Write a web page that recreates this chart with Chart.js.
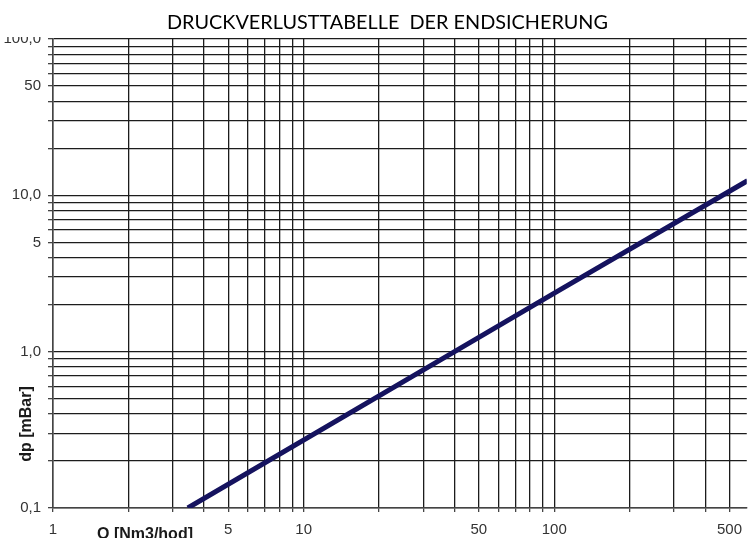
<!DOCTYPE html>
<html>
<head>
<meta charset="utf-8">
<script src="https://cdn.jsdelivr.net/npm/chart.js@4.4.1/dist/chart.umd.min.js"></script>
<style>
  html, body { margin: 0; padding: 0; background: #ffffff; }
  #wrap { width: 751px; height: 538px; position: relative; }
</style>
</head>
<body>
<div id="wrap"><canvas id="c" width="751" height="538"></canvas></div>
<script>
// ---- data ----
const chartTitle = 'DRUCKVERLUSTTABELLE  DER ENDSICHERUNG';
const xAxisTitle = 'Q [Nm3/hod]';
const yAxisTitle = 'dp [mBar]';

const flowQ = [3.45, 40, 100, 590];          // Q [Nm3/hod]
const pressureDp = [0.1, 1.0, 2.37, 12.4];   // dp [mBar]

const xGridValues = [1,2,3,4,5,6,7,8,9,10,20,30,40,50,60,70,80,90,100,200,300,400,500];
const xLabelValues = [1, 5, 10, 50, 100, 500];
const xLabelTexts = ['1', '5', '10', '50', '100', '500'];

const yGridValues = [0.1,0.2,0.3,0.4,0.5,0.6,0.7,0.8,0.9,1,2,3,4,5,6,7,8,9,10,20,30,40,50,60,70,80,90,100];
const yLabelValues = [0.1, 1, 5, 10, 50, 100];
const yLabelTexts = ['0,1', '1,0', '5', '10,0', '50', '100,0'];

const xMin = 1, xMax = 586, yMin = 0.1, yMax = 100;

function labelFor(values, texts, v) {
  for (let i = 0; i < values.length; i++) {
    if (Math.abs(values[i] - v) < 1e-9 * Math.max(1, v)) return texts[i];
  }
  return '';
}

const tickFont = { family: 'Liberation Sans, Arial, sans-serif', size: 15 };
const gridColor = '#1c1c1c';

const overlay = {
  id: 'overlay',
  afterDraw(chart) {
    const ctx = chart.ctx;
    ctx.save();
    // top crop of the scanned original
    ctx.fillStyle = '#ffffff';
    ctx.fillRect(0, 0, chart.width, 37);
    // title
    ctx.fillStyle = '#000000';
    ctx.font = '20px Lato, "Liberation Sans", sans-serif';
    ctx.textBaseline = 'alphabetic';
    ctx.textAlign = 'left';
    const w = ctx.measureText(chartTitle).width;
    const targetW = 441;
    ctx.translate(167, 29);
    ctx.scale(targetW / w, 1);
    ctx.fillText(chartTitle, 0, 0);
    ctx.restore();

    // axis titles
    ctx.save();
    ctx.fillStyle = '#1a1a1a';
    ctx.font = 'bold 16px "Liberation Sans", Arial, sans-serif';
    ctx.textBaseline = 'alphabetic';
    ctx.textAlign = 'left';
    ctx.fillText(xAxisTitle, 97, 539);
    ctx.translate(27, 424);
    ctx.rotate(-Math.PI / 2);
    ctx.textAlign = 'center';
    ctx.textBaseline = 'middle';
    ctx.fillText(yAxisTitle, 0, 0);
    ctx.restore();
  }
};

new Chart(document.getElementById('c'), {
  type: 'line',
  data: {
    datasets: [{
      data: flowQ.map((q, i) => ({ x: q, y: pressureDp[i] })),
      borderColor: '#15135f',
      borderWidth: 5,
      pointRadius: 0,
      tension: 0,
      fill: false
    }]
  },
  options: {
    responsive: false,
    animation: false,
    devicePixelRatio: 1,
    layout: { padding: { top: 39, right: 0, left: 0, bottom: 0 } },
    plugins: { legend: { display: false }, title: { display: false }, tooltip: { enabled: false } },
    scales: {
      x: {
        type: 'logarithmic',
        min: xMin,
        max: xMax,
        afterBuildTicks(scale) { scale.ticks = xGridValues.map(v => ({ value: v })); },
        afterFit(scale) { scale.height = 30; },
        ticks: {
          autoSkip: false, maxRotation: 0, minRotation: 0,
          padding: 9,
          color: '#333333',
          font: tickFont,
          callback: (v) => labelFor(xLabelValues, xLabelTexts, v)
        },
        grid: { color: gridColor, lineWidth: 1.3, tickLength: 4, tickColor: '#444444' },
        border: { color: '#444444', width: 1.5 }
      },
      y: {
        type: 'logarithmic',
        min: yMin,
        max: yMax,
        afterBuildTicks(scale) { scale.ticks = yGridValues.map(v => ({ value: v })); },
        afterFit(scale) { scale.width = 53; },
        ticks: {
          autoSkip: false,
          padding: 7,
          color: '#333333',
          font: tickFont,
          callback: (v) => labelFor(yLabelValues, yLabelTexts, v)
        },
        grid: { color: gridColor, lineWidth: 1.3, tickLength: 5, tickColor: '#444444' },
        border: { color: '#444444', width: 1.5 }
      }
    }
  },
  plugins: [overlay]
});
</script>
</body>
</html>
